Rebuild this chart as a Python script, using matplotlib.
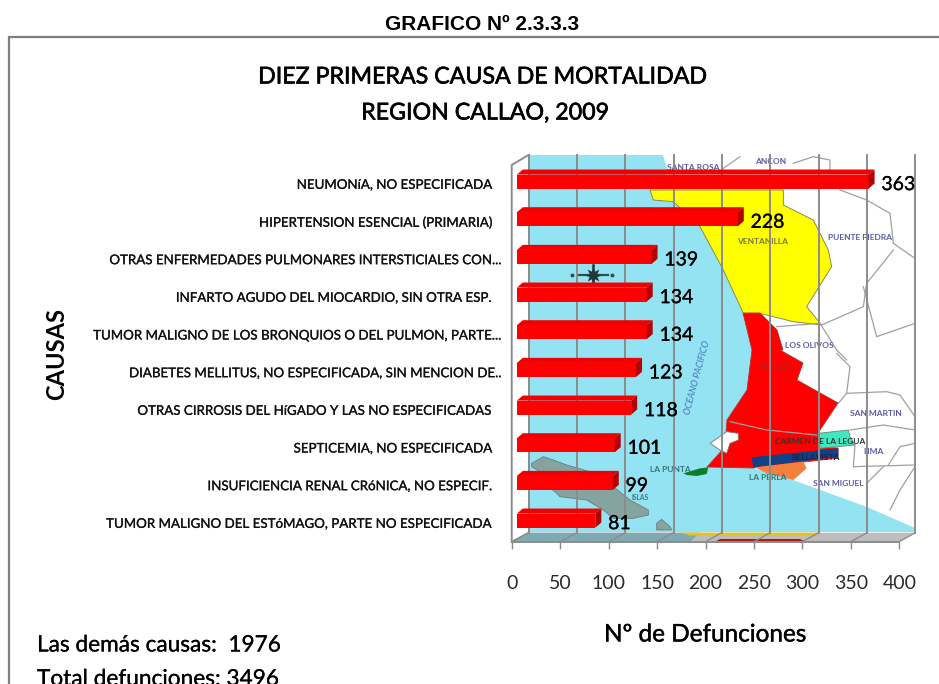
import matplotlib
matplotlib.use('Agg')
import numpy as np
import matplotlib.pyplot as plt
import matplotlib.patheffects as pe

plt.rcParams['font.family'] = ['Lato', 'DejaVu Sans']

causes = [
    'NEUMONíA, NO ESPECIFICADA\u00a0\u00a0\u00a0',
    'HIPERTENSION ESENCIAL (PRIMARIA)\u00a0\u00a0\u00a0',
    'OTRAS ENFERMEDADES PULMONARES INTERSTICIALES CON...',
    'INFARTO AGUDO DEL MIOCARDIO, SIN OTRA ESP.\u00a0\u00a0\u00a0',
    'TUMOR MALIGNO DE LOS BRONQUIOS O DEL PULMON, PARTE...',
    'DIABETES MELLITUS, NO ESPECIFICADA, SIN MENCION DE..',
    'OTRAS CIRROSIS DEL HíGADO Y LAS NO ESPECIFICADAS\u00a0\u00a0\u00a0',
    'SEPTICEMIA, NO ESPECIFICADA\u00a0\u00a0\u00a0',
    'INSUFICIENCIA RENAL CRóNICA, NO ESPECIF.\u00a0\u00a0\u00a0',
    'TUMOR MALIGNO DEL ESTóMAGO, PARTE NO ESPECIFICADA\u00a0\u00a0\u00a0',
]
deaths = [363, 228, 139, 134, 134, 123, 118, 101, 99, 81]
xticks = [0, 50, 100, 150, 200, 250, 300, 350, 400]

W, H = 939, 684
fig = plt.figure(figsize=(W / 100, H / 100), dpi=100, facecolor='white')


def heavy(width, color='black'):
    # the reference text is a blurred, heavier face
    return [pe.withStroke(linewidth=width, foreground=color)]


# background layer in pixel coordinates: frame, map, walls
bg = fig.add_axes([0, 0, 1, 1])
bg.set_xlim(0, W)
bg.set_ylim(H, 0)
bg.axis('off')

bg.plot([9, 9, W], [H, 36.5, 36.5], color='#7f7f7f', lw=1.6, solid_joinstyle='miter')


def z1(pts):
    return [(500 + a / 3, 150 + b / 3) for a, b in pts]


def z2(pts):
    return [(500 + a / 3, 350 + b / 3) for a, b in pts]


def poly(pts, color, ec='none', lw=0.6, z=2):
    p = np.array(pts)
    bg.fill(p[:, 0], p[:, 1], color=color, ec=ec, lw=lw, zorder=z)


sea = [(528, 155), (663, 155), (668, 172), (650, 190), (653, 200), (673, 202), (700, 227), (723, 270),
       (743, 313), (752, 350), (747, 390), (727, 420), (725, 447), (707, 467), (753, 468), (793, 480),
       (867, 507), (915, 528), (915, 532), (528, 532)]
poly(sea, '#94e3f2', z=1)

yellow = z1([(450, 120), (850, 120), (850, 165), (940, 210), (985, 300), (995, 350), (920, 470), (965, 525),
             (880, 515), (780, 490), (730, 490), (670, 360), (600, 230), (520, 155), (460, 150)])
poly(yellow, '#ffff00', ec='#777755')

red = [(743, 313), (760, 313), (777, 330), (783, 350), (780, 350), (803, 363), (797, 380), (838, 403),
       (818, 433), (818, 447), (838, 448), (838, 458), (753, 468), (707, 467), (725, 447), (727, 420),
       (747, 390), (752, 350)]
poly(red, '#ff0000', ec='#aa3333')
poly(z2([(630, 280), (680, 245), (715, 250), (715, 270), (690, 280), (680, 310), (660, 300)]), 'white', ec='#777777', z=3)
poly(z2([(955, 250), (1045, 240), (1050, 260), (1065, 285), (960, 295)]), '#3fe8c0', ec='#668877', z=3)
poly(z2([(755, 322), (1015, 295), (1015, 320), (760, 352)]), '#0b4288', z=3)
poly(z2([(765, 352), (910, 335), (920, 355), (880, 390), (800, 370)]), '#f57f3c', z=3)
poly(z2([(550, 370), (600, 355), (625, 352), (620, 372), (590, 378), (560, 375)]), '#0e7d2a', z=3)
poly(z2([(95, 340), (130, 320), (160, 330), (200, 345), (270, 365), (300, 385), (340, 410), (390, 450), (445, 480),
         (445, 495), (400, 505), (340, 505), (310, 480), (260, 450), (180, 440), (165, 425), (150, 415),
         (120, 365), (95, 350)]), '#87a3a0', ec='#667f7d', z=3)
poly(z2([(470, 520), (485, 508), (510, 530), (515, 540), (470, 540)]), '#87a3a0', ec='#667f7d', z=3)

# district boundaries on the land side of the map
boundaries = [
    z1([(1020, 120), (1100, 150), (1170, 190), (1180, 280), (1245, 325)]),
    z1([(1180, 300), (1100, 400), (1090, 470), (965, 525)]),
    z1([(1090, 410), (1130, 560), (1245, 520)]),
    z1([(830, 530), (960, 520), (1010, 600), (1040, 630)]),
    z1([(670, 55), (720, 20)]),
    z1([(880, 40), (940, 20), (990, 30), (990, 60)]),
    z2([(1010, 10), (1050, 50), (1040, 130), (1015, 160)]),
    z2([(1040, 130), (1160, 125), (1200, 135), (1245, 200)]),
    z2([(1050, 240), (1150, 225), (1245, 240)]),
    z2([(1065, 285), (1060, 350), (1245, 345)]),
    z2([(1165, 345), (1200, 290), (1245, 280)]),
    z2([(1100, 400), (1130, 370), (1150, 350)]),
    z2([(1170, 480), (1200, 420), (1245, 350)]),
    z2([(690, 215), (800, 240), (950, 255)]),
]
for line in boundaries:
    p = np.array(line)
    bg.plot(p[:, 0], p[:, 1], color='#a0a0a0', lw=0.9, zorder=2)

map_labels = [
    (693, 167, 'SANTA ROSA', '#5a5aa8'), (771, 162, 'ANCON', '#5a5aa8'),
    (763, 241, 'VENTANILLA', '#777733'), (860, 237, 'PUENTE PIEDRA', '#5a5aa8'),
    (809, 345, 'LOS OLIVOS', '#5a5aa8'), (774, 367, 'CALLAO', '#aa2222'),
    (876, 414, 'SAN MARTIN', '#5a5aa8'), (820, 441, 'CARMEN DE LA LEGUA', '#333333'),
    (874, 451, 'LIMA', '#5a5aa8'), (816, 457, 'BELLAVISTA', '#222244'),
    (670, 470, 'LA PUNTA', '#337777'), (768, 477, 'LA PERLA', '#337777'),
    (838, 483, 'SAN MIGUEL', '#5a5aa8'),
]
for x, y, s, c in map_labels:
    bg.text(x, y, s, fontsize=6, color=c, ha='center', va='center', fontweight='bold', zorder=4)
bg.text(640, 498, 'ISLAS', fontsize=4.8, color='#447777', ha='center', va='center', fontweight='bold', zorder=4)
bg.text(697, 378, 'OCEANO PACIFICO', fontsize=6.5, color='#4a70c0', rotation=75, ha='center', va='center',
        style='italic', zorder=4)

# compass rose
bg.plot([578, 608], [275, 275], color='#2f4f4f', lw=1.6, zorder=3)
bg.plot([593, 593], [265, 284], color='#22383f', lw=1.8, zorder=3)
bg.plot([572, 612], [275, 275], ls='none', marker='o', ms=1.8, color='#2f4f4f', zorder=3)
bg.plot([593], [275], marker=(8, 1, 0), ms=12, color='#22383f', mew=0, zorder=3)

# chart walls and floor
back_x = 528.5 + np.arange(9) * 48.35
front_x = 511.7 + np.arange(9) * 48.45
for x in back_x:
    bg.plot([x, x], [155, 532.7], color='#8c8c8c', lw=1.4, zorder=5)
poly([(511.7, 541.7), (528.5, 532.7), (915, 532.7), (899, 541.7)], '#bdbdbd', z=4)
poly([(511.7, 541.7), (528.5, 532.7), (700, 532.7), (690, 541.7)], '#7fa9b3', z=4)
poly([(680, 532.7), (820, 532.7), (815, 535.5), (690, 535.5)], '#e3c51c', z=4)
poly([(720, 539), (800, 539), (805, 541.7), (715, 541.7)], '#b51a10', z=4)
for xb, xf in zip(back_x, front_x):
    bg.plot([xb, xf], [532.7, 541.7], color='#8c8c8c', lw=1.0, zorder=5)
bg.plot([511.7, 511.7, 528.5], [541.7, 165, 155], color='#8c8c8c', lw=1.4, zorder=5)
bg.plot([528.5, 511.7], [532.7, 541.7], color='#8c8c8c', lw=1.0, zorder=5)

# bar chart layer
px_left, px_right, px_top, px_bottom = 511.7, 899.3, 165, 541.7
ax = fig.add_axes([px_left / W, 1 - px_bottom / H, (px_right - px_left) / W, (px_bottom - px_top) / H])
ax.patch.set_alpha(0)
ax.set_xlim(0, 400)
ax.set_ylim(9.5, -0.5)

ypos = np.arange(len(deaths))
start = 5.3      # bars begin a little in front of the left wall
depth_x = 6.2
depth_y = 0.135
bar_h = 0.37
bar_y = ypos - 0.06

ax.barh(bar_y, deaths, left=start, height=bar_h, color='#ff0000', zorder=3)
for y, v in zip(bar_y, deaths):
    x1 = start + v
    top = y - bar_h / 2
    bottom = y + bar_h / 2
    ax.fill([start, x1, x1 + depth_x, start + depth_x], [top, top, top - depth_y, top - depth_y],
            color='#f00000', lw=0, zorder=3, clip_on=False)
    ax.fill([x1, x1 + depth_x, x1 + depth_x, x1], [top, top - depth_y, bottom - depth_y, bottom],
            color='#b40000', lw=0, zorder=3, clip_on=False)
    ax.text(x1 + depth_x + 7, y + 0.08, str(v), fontsize=14, color='black', ha='left', va='center',
            zorder=6, clip_on=False, path_effects=heavy(0.2))

for s in ['top', 'right', 'left']:
    ax.spines[s].set_visible(False)
ax.spines['bottom'].set_color('#8c8c8c')
ax.spines['bottom'].set_linewidth(1.4)

ax.set_xticks(xticks)
ax.tick_params(axis='x', direction='out', length=5, width=1, color='#8c8c8c', pad=19, labelsize=14,
               labelcolor='#2b2b2b')
ax.set_yticks(ypos)
ax.set_yticklabels(causes, fontsize=9.6, color='#111111', path_effects=heavy(0.18, '#111111'))
ax.tick_params(axis='y', length=0, pad=6.2)

ax.set_xlabel('Nº de Defunciones', fontsize=17.5, path_effects=heavy(0.3))
ax.xaxis.set_label_coords((705 - px_left) / (px_right - px_left), (px_bottom - 635) / (px_bottom - px_top),
                          transform=ax.transAxes)
ax.xaxis.label.set_va('center')
ax.set_ylabel('CAUSAS', fontsize=17, fontweight='bold')
ax.yaxis.set_label_coords((57 - px_left) / (px_right - px_left), (px_bottom - 354) / (px_bottom - px_top),
                          transform=ax.transAxes)
ax.yaxis.label.set_va('center')

# titles and notes
fig.text(482 / W, 1 - 25 / H, 'GRAFICO Nº 2.3.3.3', family='Liberation Sans', fontweight='bold', fontsize=15,
         ha='center', va='center')
fig.text(482 / W, 1 - 77 / H, 'DIEZ PRIMERAS CAUSA DE MORTALIDAD', fontsize=16.7, ha='center', va='center',
         path_effects=heavy(0.45))
fig.text(485 / W, 1 - 113 / H, 'REGION CALLAO, 2009', fontsize=16.7, ha='center', va='center',
         path_effects=heavy(0.45))
fig.text(37 / W, 1 - 645 / H, 'Las demás causas:  1976', fontsize=16.3, ha='left', va='center',
         path_effects=heavy(0.15))
fig.text(37 / W, 1 - 679 / H, 'Total defunciones: 3496', fontsize=16.3, ha='left', va='center',
         path_effects=heavy(0.15))

fig.savefig('out.png', dpi=100)
